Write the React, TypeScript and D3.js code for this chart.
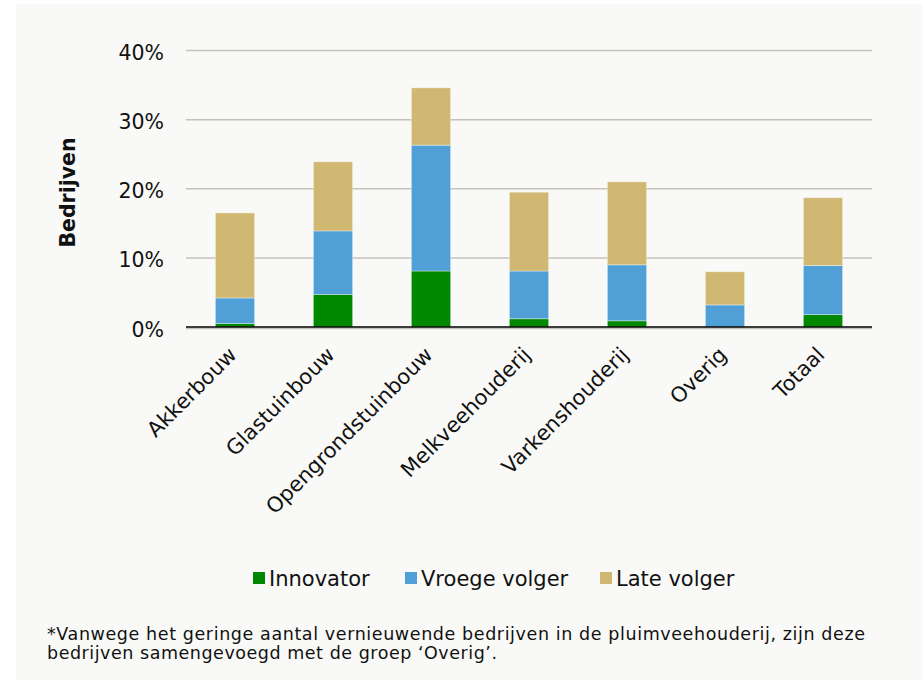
import React from "react";
import * as d3 from "d3";

const categories = ["Akkerbouw", "Glastuinbouw", "Opengrondstuinbouw", "Melkveehouderij", "Varkenshouderij", "Overig", "Totaal"];
const seriesNames = ["Innovator", "Vroege volger", "Late volger"];
const innovator = [0.5, 4.7, 8.1, 1.2, 0.9, 0.0, 1.8];
const vroegeVolger = [3.7, 9.2, 18.2, 6.9, 8.1, 3.2, 7.1];
const lateVolger = [12.3, 10.0, 8.3, 11.4, 12.0, 4.8, 9.8];
const yTicks = [0, 10, 20, 30, 40];
const colors = ["#008800", "#50A0D7", "#D0B873"];
const footnoteLines = [
  "*Vanwege het geringe aantal vernieuwende bedrijven in de pluimveehouderij, zijn deze",
  "bedrijven samengevoegd met de groep \u2018Overig\u2019.",
];
const footnoteWidths = [818, 450];

const W = 922;
const H = 680;
const FONT = "'DejaVu Sans', Verdana, sans-serif";

export default function App() {
  const x = d3.scaleBand<string>().domain(categories).range([186, 872]).paddingInner(0.6).paddingOuter(0.3);
  const y = d3.scaleLinear().domain([0, 40]).range([327, 50.5]);

  const rows = categories.map((c, i) => ({
    cat: c,
    Innovator: innovator[i],
    "Vroege volger": vroegeVolger[i],
    "Late volger": lateVolger[i],
  }));
  const stacked = d3.stack<any>().keys(seriesNames)(rows);

  const legendX = [253, 405, 600];

  return (
    <svg width={W} height={H} style={{ position: "absolute", left: 0, top: 0 }} fontFamily={FONT}>
      <rect x={0} y={0} width={W} height={H} fill="#ffffff" />
      <rect x={16} y={4} width={W - 16} height={H - 4} fill="#f9f9f7" />

      {yTicks.map((t) => (
        <g key={t}>
          {t !== 0 && (
            <line x1={186} x2={872} y1={y(t)} y2={y(t)} stroke="#c6c2ba" strokeWidth={1.5} />
          )}
          <text x={164} y={y(t) + 9.5} textAnchor="end" fontSize={20.5} fill="#111">
            {`${t}%`}
          </text>
        </g>
      ))}

      {stacked.map((layer, si) => (
        <g key={seriesNames[si]} fill={colors[si]}>
          {layer.map((d, i) => {
            const h = y(d[0]) - y(d[1]);
            if (h <= 0) return null;
            return (
              <rect
                key={i}
                x={x(categories[i])}
                y={y(d[1])}
                width={x.bandwidth()}
                height={h}
                stroke="rgba(255,255,255,0.35)"
                strokeWidth={1}
              />
            );
          })}
        </g>
      ))}

      <line x1={186} x2={872} y1={y(0) + 1.5} y2={y(0) + 1.5} stroke="#c6c2ba" strokeWidth={1.5} />
      <line x1={186} x2={872} y1={y(0)} y2={y(0)} stroke="#000" strokeWidth={1.5} />

      {categories.map((c) => (
        <text
          key={c}
          transform={`translate(${(x(c) as number) + x.bandwidth() / 2 + 3},356) rotate(-45)`}
          textAnchor="end"
          fontSize={21}
          fill="#111"
        >
          {c}
        </text>
      ))}

      <text transform="translate(75,192.5) rotate(-90)" textAnchor="middle" fontSize={20.5} fontWeight="bold" fill="#111">
        Bedrijven
      </text>

      {seriesNames.map((s, i) => (
        <g key={s}>
          <rect x={legendX[i]} y={572} width={12} height={12} fill={colors[i]} />
          <text x={legendX[i] + 16} y={586} fontSize={21} fill="#111">
            {s}
          </text>
        </g>
      ))}

      {footnoteLines.map((l, i) => (
        <text
          key={i}
          x={47}
          y={640 + i * 18.5}
          fontSize={17.5}
          fill="#111"
          textLength={footnoteWidths[i]}
          lengthAdjust="spacing"
        >
          {l}
        </text>
      ))}
    </svg>
  );
}
